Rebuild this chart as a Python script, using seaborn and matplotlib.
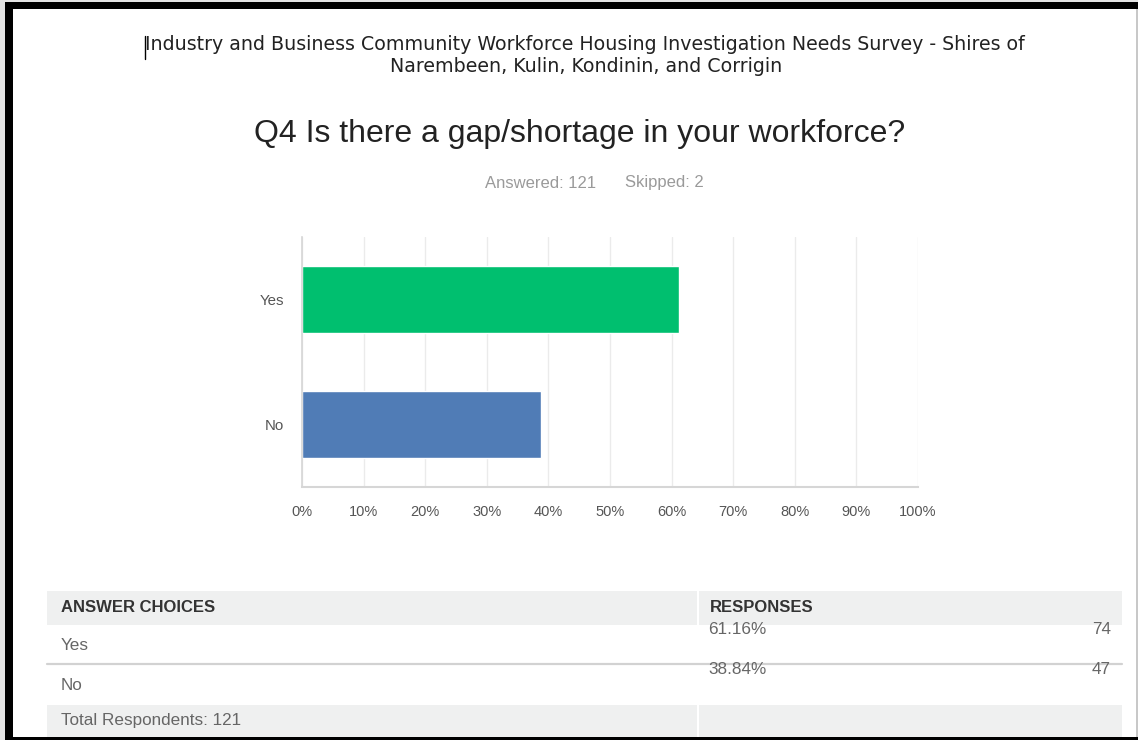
import matplotlib
matplotlib.use("Agg")
import matplotlib.pyplot as plt
from matplotlib.patches import Rectangle
from matplotlib.lines import Line2D
import seaborn as sns
import pandas as pd

# Survey data
choices = ["Yes", "No"]
percents = [61.16, 38.84]
counts = [74, 47]
answered = 121
skipped = 2
bar_colors = ["#00BF6F", "#507CB6"]
x_ticks = [0, 10, 20, 30, 40, 50, 60, 70, 80, 90, 100]
x_tick_labels = [f"{t}%" for t in x_ticks]

header_line1 = "Industry and Business Community Workforce Housing Investigation Needs Survey - Shires of"
header_line2 = "Narembeen, Kulin, Kondinin, and Corrigin"
question = "Q4 Is there a gap/shortage in your workforce?"

W, H = 1138, 740
sns.set_theme(style="whitegrid")
plt.rcParams["font.family"] = ["Liberation Sans", "DejaVu Sans"]

fig = plt.figure(figsize=(W / 100, H / 100), dpi=100)
fig.patch.set_facecolor("white")


def fx(px):
    return px / W


def fy(py):
    return 1 - py / H


def frect(x0, y0, x1, y1, color, z=0):
    fig.patches.append(Rectangle((fx(x0), fy(y1)), fx(x1) - fx(x0), fy(y0) - fy(y1),
                                 transform=fig.transFigure, facecolor=color,
                                 edgecolor="none", zorder=z))


def fline(x0, y0, x1, y1, color, lw=1.0, z=1):
    fig.lines.append(Line2D([fx(x0), fx(x1)], [fy(y0), fy(y1)], transform=fig.transFigure,
                            color=color, linewidth=lw, zorder=z))


# Page frame
frect(0, 0, W, 2, "#e4e4e4")
frect(0, 0, 5, H, "#e4e4e4")
frect(5, 2, W, 9, "black", z=3)
frect(5, 2, 13, 737, "black", z=3)
frect(5, 737, W, H, "black", z=3)
fline(1136.5, 9, 1136.5, 737, "#bdbdbd", lw=1.2)

# Document header
fig.text(fx(585), fy(45), header_line1, ha="center", va="center", fontsize=13.7,
         family="DejaVu Sans", color="#222222")
fig.text(fx(586), fy(66), header_line2, ha="center", va="center", fontsize=13.7,
         family="DejaVu Sans", color="#222222")
fline(144.5, 36, 144.5, 59, "black", lw=1.0)

# Question title and stats
fig.text(fx(580), fy(134), question, ha="center", va="center", fontsize=23, color="#222222")
fig.text(fx(485), fy(183), f"Answered: {answered}", ha="left", va="center",
         fontsize=12, color="#9a9a9a")
fig.text(fx(625), fy(183), f"Skipped: {skipped}", ha="left", va="center",
         fontsize=12, color="#9a9a9a")

# Bar chart
ax = fig.add_axes([fx(302), fy(487), fx(918) - fx(302), fy(237) - fy(487)])
df = pd.DataFrame({"choice": choices, "percent": percents})
sns.barplot(data=df, x="percent", y="choice", hue="choice", palette=bar_colors,
            orient="h", width=0.536, legend=False, ax=ax, saturation=1)
ax.set_xlim(0, 100)
ax.set_ylim(1.5, -0.5)
ax.set_xticks(x_ticks)
ax.set_xticklabels(x_tick_labels)
ax.set_xlabel("")
ax.set_ylabel("")
ax.grid(axis="x", color="#ebebeb", linewidth=1.0)
ax.grid(axis="y", visible=False)
ax.set_facecolor("white")
for side in ["top", "right"]:
    ax.spines[side].set_visible(False)
ax.spines["left"].set_color("#d6d6d6")
ax.spines["bottom"].set_color("#d6d6d6")
ax.spines["left"].set_linewidth(1.2)
ax.spines["bottom"].set_linewidth(1.5)
ax.tick_params(axis="x", length=0, pad=13, labelsize=10.5, labelcolor="#555555")
ax.tick_params(axis="y", length=0, pad=13, labelsize=10.8, labelcolor="#555555")
ax.set_axisbelow(True)

# Response table
tbl_l, tbl_r, col_x = 47, 1122, 697
fs = 12.3
frect(tbl_l, 591, tbl_r, 625, "#eff0f0")
frect(col_x, 591, col_x + 2, 625, "white", z=1)
fig.text(fx(61), fy(608), "ANSWER CHOICES", ha="left", va="center", fontsize=fs - 0.3,
         fontweight="bold", color="#333333")
fig.text(fx(710), fy(608), "RESPONSES", ha="left", va="center", fontsize=fs - 0.3,
         fontweight="bold", color="#333333")

row_tops = [625, 665]
for i, (c, p, n) in enumerate(zip(choices, percents, counts)):
    top = row_tops[i]
    fig.text(fx(61), fy(top + 20), c, ha="left", va="center", fontsize=fs, color="#666666")
    fig.text(fx(708), fy(top + 4), f"{p:.2f}%", ha="left", va="center", fontsize=fs,
             color="#666666")
    fig.text(fx(1111), fy(top + 4), f"{n}", ha="right", va="center", fontsize=fs,
             color="#666666")
fline(tbl_l, 663.5, tbl_r, 663.5, "#d2d2d2", lw=1.6)

frect(tbl_l, 705, col_x, 737, "#eff0f0")
frect(col_x + 2, 705, tbl_r, 737, "#eff0f0")
fig.text(fx(61), fy(720), f"Total Respondents: {answered}", ha="left", va="center",
         fontsize=fs, color="#666666")

fig.savefig("out.png", dpi=100, facecolor="white")
